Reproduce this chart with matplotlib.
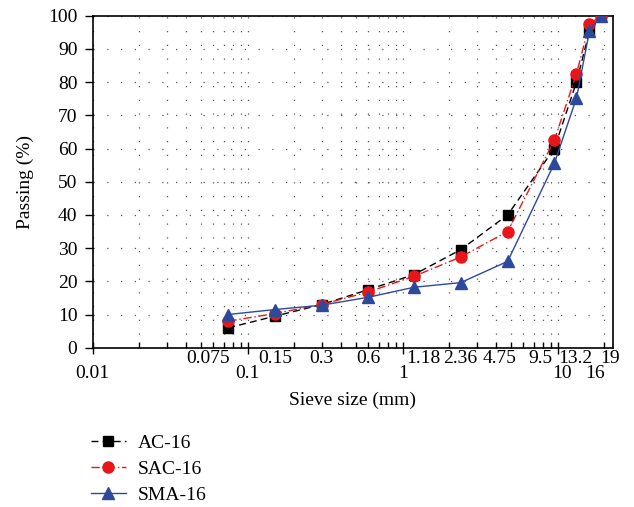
import matplotlib
matplotlib.use("Agg")
import matplotlib.pyplot as plt
from matplotlib.ticker import LogLocator, NullFormatter, FixedLocator

plt.rcParams['font.family'] = ['Liberation Serif', 'DejaVu Serif']

sieve = [0.075, 0.15, 0.3, 0.6, 1.18, 2.36, 4.75, 9.5, 13.2, 16, 19]
ac16 = [6.0, 9.5, 13.0, 17.5, 22.0, 29.5, 40.0, 60.0, 80.0, 95.3, 100.0]
sac16 = [8.0, 10.3, 13.0, 16.8, 21.5, 27.3, 35.0, 62.5, 82.5, 97.5, 100.0]
sma16 = [10.0, 11.5, 12.8, 15.2, 18.2, 19.6, 26.0, 55.5, 75.2, 95.3, 100.0]

upper_labels = ['0.075', '0.15', '0.3', '0.6', '1.18', '2.36', '4.75', '9.5', '13.2', '19']
upper_pos = [0.0557, 0.15, 0.3, 0.6, 1.35, 2.36, 4.24, 7.69, 12.9, 21.7]
lower_labels = ['0.01', '0.1', '1', '10', '16']
lower_pos = [0.01, 0.1, 1.0, 10.6, 17.5]

FS = 14

fig = plt.figure(figsize=(6.34, 5.07), dpi=100)
ax = fig.add_axes([0.1462, 0.3142, 0.8211, 0.6548])

ax.plot(sieve, ac16, color='black', linestyle=(0, (5, 3)), linewidth=1.0,
        marker='s', markersize=7, label='AC-16', zorder=3)
ax.plot(sieve, sac16, color='#e8161b', linestyle=(0, (6, 2, 1, 2)), linewidth=1.0,
        marker='o', markersize=8, label='SAC-16', zorder=4)
ax.plot(sieve, sma16, color='#2b4a9c', linestyle='-', linewidth=1.0,
        marker='^', markersize=9, label='SMA-16', zorder=5)

ax.set_xscale('log')
ax.set_xlim(0.01, 22.8)
ax.set_ylim(0, 100)
ax.set_yticks(range(0, 101, 10))
ax.tick_params(axis='y', direction='out', length=6, width=1, labelsize=FS, pad=5)
ax.xaxis.set_major_locator(FixedLocator([0.01, 0.1, 1, 10]))
ax.xaxis.set_minor_locator(LogLocator(base=10, subs=range(2, 10)))
ax.xaxis.set_major_formatter(NullFormatter())
ax.xaxis.set_minor_formatter(NullFormatter())
ax.tick_params(axis='x', which='major', direction='inout', length=8, width=1)
ax.tick_params(axis='x', which='minor', direction='in', length=4, width=1)

ax.grid(True, which='both', axis='x', color='#555555', linestyle=(0, (1, 10)), linewidth=0.9)
ax.grid(True, which='major', axis='y', color='#555555', linestyle=(0, (1, 10)), linewidth=0.9)
ax.set_axisbelow(True)
for s in ax.spines.values():
    s.set_linewidth(1.2)

tr = ax.get_xaxis_transform()
for lab, x in zip(upper_labels, upper_pos):
    ax.text(x, -0.034, lab, transform=tr, ha='center', va='center', fontsize=FS, clip_on=False)
for lab, x in zip(lower_labels, lower_pos):
    ax.text(x, -0.079, lab, transform=tr, ha='center', va='center', fontsize=FS, clip_on=False)

ax.set_xlabel('Sieve size (mm)', fontsize=FS, labelpad=24)
ax.set_ylabel('Passing (%)', fontsize=FS, labelpad=10)

fig.legend(loc='upper left', bbox_to_anchor=(0.143, 0.143), bbox_transform=fig.transFigure,
           frameon=False, fontsize=FS, handlelength=1.8, labelspacing=0.42, handletextpad=0.6,
           borderpad=0, borderaxespad=0)

fig.savefig('out.png', dpi=100)
